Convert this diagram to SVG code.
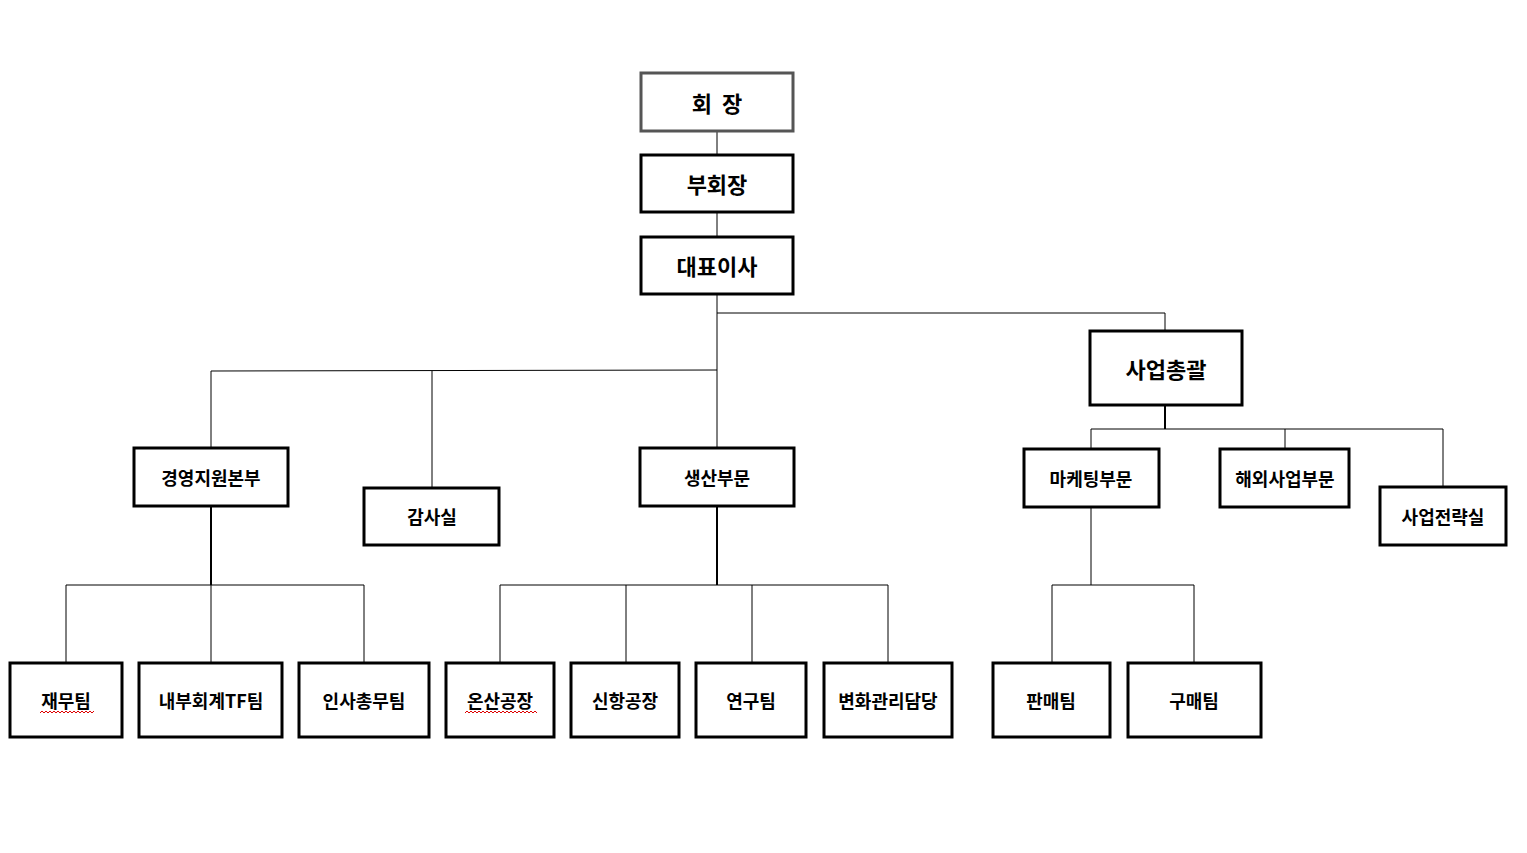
<svg xmlns="http://www.w3.org/2000/svg" width="1527" height="853" viewBox="0 0 1527 853">
<style>
.b{fill:#fff;stroke:#000;stroke-width:3}
.t{font-family:"Noto Sans CJK KR","Liberation Sans",sans-serif;font-weight:bold;font-size:18px;text-anchor:middle;dominant-baseline:central;fill:#000}
.L{font-size:22px}
#conn line{stroke:#000;stroke-width:1}
.sq{fill:none;stroke:#d00;stroke-width:1}
</style>
<rect width="1527" height="853" fill="#fff"/>
<g id="conn">
<line x1="717" y1="131" x2="717" y2="155"/>
<line x1="717" y1="212" x2="717" y2="237"/>
<line x1="717" y1="294" x2="717" y2="448"/>
<line x1="717" y1="313" x2="1165" y2="313"/>
<line x1="1165" y1="313" x2="1165" y2="331"/>
<line x1="211" y1="371" x2="717" y2="370"/>
<line x1="211" y1="371" x2="211" y2="448"/>
<line x1="432" y1="371" x2="432" y2="488"/>
<line x1="211" y1="506" x2="211" y2="585" style="stroke-width:2"/>
<line x1="66" y1="585" x2="364" y2="585"/>
<line x1="66" y1="585" x2="66" y2="663"/>
<line x1="211" y1="585" x2="211" y2="663"/>
<line x1="364" y1="585" x2="364" y2="663"/>
<line x1="717" y1="506" x2="717" y2="585" style="stroke-width:2"/>
<line x1="500" y1="585" x2="888" y2="585"/>
<line x1="500" y1="585" x2="500" y2="663"/>
<line x1="626" y1="585" x2="626" y2="663"/>
<line x1="752" y1="585" x2="752" y2="663"/>
<line x1="888" y1="585" x2="888" y2="663"/>
<line x1="1165" y1="405" x2="1165" y2="429" style="stroke-width:2"/>
<line x1="1091" y1="429" x2="1443" y2="429"/>
<line x1="1091" y1="429" x2="1091" y2="449"/>
<line x1="1285" y1="429" x2="1285" y2="449"/>
<line x1="1443" y1="429" x2="1443" y2="487"/>
<line x1="1091" y1="507" x2="1091" y2="585"/>
<line x1="1052" y1="585" x2="1194" y2="585"/>
<line x1="1052" y1="585" x2="1052" y2="663"/>
<line x1="1194" y1="585" x2="1194" y2="663"/>
</g>
<g id="n1"><rect class="b" x="641" y="73" width="152" height="58" style="stroke:#555"/><text class="t L" x="717" y="102" xml:space="preserve">회  장</text></g>
<g id="n2"><rect class="b" x="641" y="155" width="152" height="57"/><text class="t L" x="717" y="183">부회장</text></g>
<g id="n3"><rect class="b" x="641" y="237" width="152" height="57"/><text class="t L" x="717" y="265">대표이사</text></g>
<g id="n4"><rect class="b" x="1090" y="331" width="152" height="74"/><text class="t L" x="1166" y="368">사업총괄</text></g>
<g id="n5"><rect class="b" x="134" y="448" width="154" height="58"/><text class="t" x="211" y="477">경영지원본부</text></g>
<g id="n6"><rect class="b" x="364" y="488" width="135" height="57"/><text class="t" x="432" y="516">감사실</text></g>
<g id="n7"><rect class="b" x="640" y="448" width="154" height="58"/><text class="t" x="717" y="477">생산부문</text></g>
<g id="n8"><rect class="b" x="1024" y="449" width="135" height="58"/><text class="t" x="1091" y="478">마케팅부문</text></g>
<g id="n9"><rect class="b" x="1220" y="449" width="129" height="58"/><text class="t" x="1285" y="478">해외사업부문</text></g>
<g id="n10"><rect class="b" x="1380" y="487" width="126" height="58"/><text class="t" x="1443" y="516">사업전략실</text></g>
<g id="n11"><rect class="b" x="10" y="663" width="112" height="74"/><text class="t" x="66" y="700">재무팀</text></g>
<g id="n12"><rect class="b" x="139" y="663" width="143" height="74"/><text class="t" x="211" y="700">내부회계TF팀</text></g>
<g id="n13"><rect class="b" x="299" y="663" width="130" height="74"/><text class="t" x="364" y="700">인사총무팀</text></g>
<g id="n14"><rect class="b" x="446" y="663" width="108" height="74"/><text class="t" x="500" y="700">온산공장</text></g>
<g id="n15"><rect class="b" x="571" y="663" width="108" height="74"/><text class="t" x="625" y="700">신항공장</text></g>
<g id="n16"><rect class="b" x="696" y="663" width="110" height="74"/><text class="t" x="751" y="700">연구팀</text></g>
<g id="n17"><rect class="b" x="824" y="663" width="128" height="74"/><text class="t" x="888" y="700">변화관리담당</text></g>
<g id="n18"><rect class="b" x="993" y="663" width="117" height="74"/><text class="t" x="1051" y="700">판매팀</text></g>
<g id="n19"><rect class="b" x="1128" y="663" width="133" height="74"/><text class="t" x="1194" y="700">구매팀</text></g>
<path class="sq" d="M40 713 l2 -2 l2 2 l2 -2 l2 2 l2 -2 l2 2 l2 -2 l2 2 l2 -2 l2 2 l2 -2 l2 2 l2 -2 l2 2 l2 -2 l2 2 l2 -2 l2 2 l2 -2 l2 2 l2 -2 l2 2 l2 -2 l2 2 l2 -2 l2 2 l2 -2"/>
<path class="sq" d="M465 713 l2 -2 l2 2 l2 -2 l2 2 l2 -2 l2 2 l2 -2 l2 2 l2 -2 l2 2 l2 -2 l2 2 l2 -2 l2 2 l2 -2 l2 2 l2 -2 l2 2 l2 -2 l2 2 l2 -2 l2 2 l2 -2 l2 2 l2 -2 l2 2 l2 -2 l2 2 l2 -2 l2 2 l2 -2 l2 2 l2 -2 l2 2 l2 -2 l2 2"/>
</svg>
